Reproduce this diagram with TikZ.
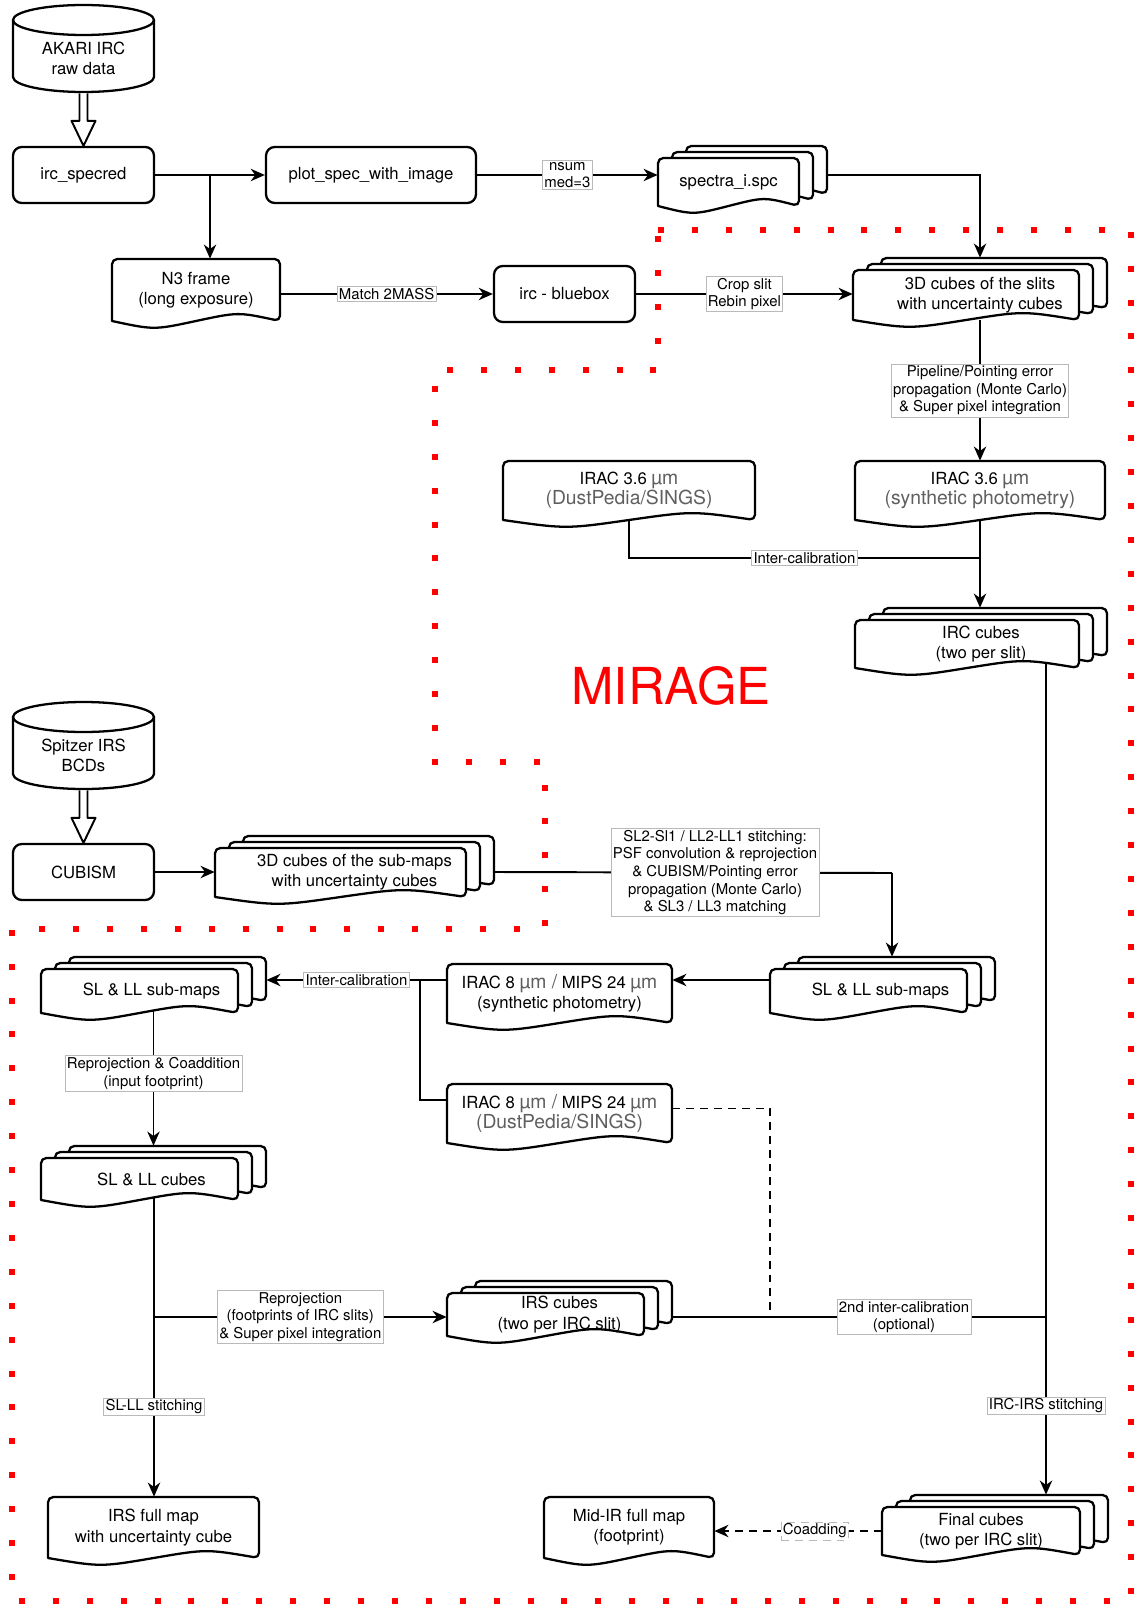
\documentclass[tikz,border=0pt]{standalone}
\usepackage{fontspec}
\setmainfont{TeX Gyre Heros}
\usetikzlibrary{arrows.meta, calc, fit}
\definecolor{mirage}{RGB}{255, 0, 0}
\definecolor{dimtext}{RGB}{95, 95, 95}
\definecolor{lblframe}{RGB}{185, 185, 185}

\pgfdeclarelayer{back}
\pgfsetlayers{back,main}

\newcommand{\dimtxt}[1]{{\color{dimtext}\fontsize{11}{13}\selectfont #1}}

% document outline, #4 is the level of the bottom corners
\newcommand{\drawdoc}[4]{%
  \draw[outline, fill=white] (#1, #4) [rounded corners=3pt] -- (#1, #2) -- (#3, #2)
    -- (#3, #4) [sharp corners]
    .. controls ({#3 - (#3 - #1) / 4}, #4 - 9) .. ({(#1 + #3) / 2}, #4)
    .. controls ({#1 + (#3 - #1) / 4}, #4 + 9) .. (#1, #4) -- cycle;
}

\newcommand{\docnode}[6]{%
  \drawdoc{#2}{#3}{#4}{#5}
  \node[fit={(#2, #3) (#4, #5)}, inner sep=0pt] (#1) {};
  \node[txt] (#1-t) at (#1) {#6};
}

% three stacked documents, front one given
\newcommand{\mdocnode}[7]{%
  \foreach \k in {2, 1, 0} {
    \pgfmathsetmacro{\xa}{#2 + 14 * \k}
    \pgfmathsetmacro{\ya}{#3 - 6 * \k}
    \pgfmathsetmacro{\xb}{#4 + 14 * \k}
    \pgfmathsetmacro{\yb}{#5 - 6 * \k}
    \drawdoc{\xa}{\ya}{\xb}{\yb}
  }
  \node[fit={(#2 + 28, #3 - 12) (#4 + 28, #5 - 12)}, inner sep=0pt] (#1b) {};
  \node[fit={(#2 + 14, #3 - 6) (#4 + 14, #5 - 6)}, inner sep=0pt] (#1m) {};
  \node[fit={(#2, #3) (#4, #5)}, inner sep=0pt] (#1) {};
  \node[txt] (#1-t) at ($(#1) + (#6, 0)$) {#7};
}

% rounded process box
\newcommand{\procnode}[6]{%
  \node[proc, fit={(#2, #3) (#4, #5)}] (#1) {};
  \node[txt] (#1-t) at (#1) {#6};
}

% database cylinder
\newcommand{\dbnode}[6]{%
  \pgfmathsetmacro{\rx}{(#4 - #2) / 2 * 0.02}
  \draw[outline, fill=white] (#2, #3 + 15) -- (#2, #5 - 15)
    arc[start angle=180, end angle=360, x radius=\rx cm, y radius=0.3cm]
    -- (#4, #3 + 15)
    arc[start angle=0, end angle=180, x radius=\rx cm, y radius=0.3cm] -- cycle;
  \draw[outline] (#2, #3 + 15)
    arc[start angle=180, end angle=360, x radius=\rx cm, y radius=0.3cm];
  \node[fit={(#2, #3) (#4, #5)}, inner sep=0pt] (#1) {};
  \node[txt] (#1-t) at ($(#1) + (0, 10)$) {#6};
}

\newcommand{\hollowarrow}[2]{%
  \draw[outline, line width=1.1pt, fill=white]
    ($(#1.south) + (-4, 1)$) -- ($(#2.north) + (-4, -25)$) -- ($(#2.north) + (-12, -25)$)
    -- (#2.north) -- ($(#2.north) + (12, -25)$) -- ($(#2.north) + (4, -25)$)
    -- ($(#1.south) + (4, 1)$);
}

\begin{document}
\begin{tikzpicture}[x=0.02cm, y=-0.02cm,
    outline/.style={draw, line width=1.3pt, line join=round},
    proc/.style={outline, rounded corners=5pt, fill=white, inner sep=0pt},
    txt/.style={align=center, inner sep=0pt, font=\fontsize{9.5}{11.5}\selectfont},
    conn/.style={line width=1.1pt},
    arr/.style={conn, -{Stealth[length=8pt, width=7pt, inset=2.5pt]}},
    dsh/.style={conn, dash pattern=on 4.5pt off 3.4pt},
    lbl/.style={fill=white, draw=lblframe, line width=0.4pt, inner sep=1pt,
      align=center, font=\fontsize{8.5}{10}\selectfont}]

  \useasboundingbox (0, 0) rectangle (1136, 1605);

  % MIRAGE region
  \draw[mirage, line width=3.4pt, dash pattern=on 3.4pt off 15.9pt]
    (658, 230) -- (1131, 230) -- (1131, 1601) -- (12, 1601) -- (12, 929)
    -- (545, 929) -- (545, 762) -- (435, 762) -- (435, 370) -- (658, 370) -- cycle;
  \node[font=\fontsize{29}{34}\selectfont, text=mirage] (mirage) at (671, 686) {MIRAGE};

  % AKARI branch
  \dbnode{akari}{13}{5}{154}{92}{AKARI IRC\\raw data}
  \procnode{specred}{13}{147}{154}{203}{irc\_specred}
  \procnode{plotspec}{266}{147}{476}{203}{plot\_spec\_with\_image}
  \mdocnode{spectra}{658}{158}{799}{206}{0}{spectra\_i.spc}
  \docnode{n3}{112}{259}{280}{321}{N3 frame\\(long exposure)}
  \procnode{bluebox}{494}{266}{635}{322}{irc - bluebox}
  \mdocnode{cubes3d}{853}{270}{1079}{320}{14}{3D cubes of the slits\\with uncertainty cubes}
  \docnode{irac36d}{503}{461}{755}{520}{IRAC 3.6 \dimtxt{µm}\\\dimtxt{(DustPedia/SINGS)}}
  \docnode{irac36s}{855}{461}{1105}{520}{IRAC 3.6 \dimtxt{µm}\\\dimtxt{(synthetic photometry)}}
  \mdocnode{irccubes}{855}{620}{1079}{668}{14}{IRC cubes\\(two per slit)}

  % Spitzer branch
  \dbnode{spitzer}{13}{702}{154}{789}{Spitzer IRS\\BCDs}
  \procnode{cubism}{13}{844}{154}{900}{CUBISM}
  \mdocnode{submaps3d}{215}{848}{466}{897}{14}{3D cubes of the sub-maps\\with uncertainty cubes}
  \mdocnode{slsubr}{770}{969}{967}{1013}{12}{SL \& LL sub-maps}
  \docnode{irac8s}{447}{964}{672}{1023}{IRAC 8 \dimtxt{µm /} MIPS 24 \dimtxt{µm}\\(synthetic photometry)}
  \docnode{irac8d}{447}{1084}{672}{1143}{IRAC 8 \dimtxt{µm /} MIPS 24 \dimtxt{µm}\\\dimtxt{(DustPedia/SINGS)}}
  \mdocnode{slsubl}{41}{969}{238}{1013}{12}{SL \& LL sub-maps}
  \mdocnode{slcubes}{41}{1158}{238}{1200}{12}{SL \& LL cubes}
  \mdocnode{irscubes}{447}{1293}{644}{1336}{14}{IRS cubes\\(two per IRC slit)}
  \docnode{irsfull}{48}{1497}{259}{1558}{IRS full map\\with uncertainty cube}
  \docnode{midir}{544}{1497}{714}{1558}{Mid-IR full map\\(footprint)}
  \mdocnode{finalcubes}{882}{1507}{1080}{1555}{0}{Final cubes\\(two per IRC slit)}

  \hollowarrow{akari}{specred}
  \hollowarrow{spitzer}{cubism}

  \coordinate (b1) at (210, 175);
  \coordinate (j1) at (980, 558);
  \coordinate (j3) at (1046, 1317);
  \coordinate (j4) at (892, 873);
  \coordinate (j5) at (420, 980);
  \coordinate (j6) at (420, 1100);
  \coordinate (j7) at (770, 1317);
  \coordinate (j8) at (154, 1317);

  \begin{pgfonlayer}{back}
    \fill[white] (0, 0) rectangle (1136, 1605);

    \draw[arr] (specred) -- (plotspec);
    \draw[arr] (b1) -- (b1 |- n3.north);
    \draw[arr] (plotspec.east) -- (plotspec.east -| spectra.west)
      node[lbl, midway] {nsum\\med=3};
    \draw[arr] (spectrab.center |- plotspec) -| (cubes3dm.north |- cubes3db.north);
    \draw[arr] (n3.east |- bluebox) -- (bluebox) node[lbl, midway] {Match 2MASS};
    \draw[arr] (bluebox) -- (bluebox -| cubes3d.west)
      node[lbl, midway] {Crop slit\\Rebin pixel};
    \draw[arr] (irac36s.north |- cubes3d.south) -- (irac36s.north)
      node[lbl, midway] {Pipeline/Pointing error\\propagation (Monte Carlo)\\\& Super pixel integration};
    \draw[conn] (irac36d.south) |- (j1) node[lbl, pos=0.75] {Inter-calibration};
    \draw[arr] (irac36s.south) -- (irac36s.south |- irccubesb.north);
    \draw[conn] (irccubes.center -| j3) -- (j3);
    \draw[arr] (j3) -- (j3 |- finalcubesb.north) node[lbl, midway] {IRC-IRS stitching};

    \draw[arr] (cubism) -- (cubism -| submaps3d.west);
    \draw[conn] (submaps3db.east |- cubism) -- (j4)
      node[lbl, pos=0.555] {SL2-Sl1 / LL2-LL1 stitching:\\PSF convolution \& reprojection\\\& CUBISM/Pointing error\\propagation (Monte Carlo)\\\& SL3 / LL3 matching};
    \draw[arr] (j4) -- (j4 |- slsubrb.north);
    \draw[arr] (j5 -| slsubr.west) -- (j5 -| irac8s.east);
    \draw[arr] (j5 -| irac8s.west) -- (j5 -| slsublb.east) node[lbl, midway] {Inter-calibration};
    \draw[conn] (j5) -- (j6) -- (j6 -| irac8d.west);
    \draw[dsh] ($(irac8d.east) + (0, -5)$) -| (j7);
    \draw[arr] (slsublm.center) -- (slsublm.center |- slcubesb.north)
      node[lbl, pos=0.55] {Reprojection \& Coaddition\\(input footprint)};
    \draw[conn] (slcubesm.center -| j8) -- (j8);
    \draw[arr] (j8) -- (j8 |- irsfull.north) node[lbl, midway] {SL-LL stitching};
    \draw[arr] (j8) -- (j8 -| irscubes.west)
      node[lbl, midway] {Reprojection\\(footprints of IRC slits)\\\& Super pixel integration};
    \draw[conn] (irscubesb.east |- j8) -- (j3)
      node[lbl, pos=0.62] {2nd inter-calibration\\(optional)};
    \draw[dsh, -{Stealth[length=8pt, width=7pt, inset=2.5pt]}] (finalcubes.west)
      -- (finalcubes.west -| midir.east) node[lbl, pos=0.4] {Coadding};
  \end{pgfonlayer}
\end{tikzpicture}
\end{document}
